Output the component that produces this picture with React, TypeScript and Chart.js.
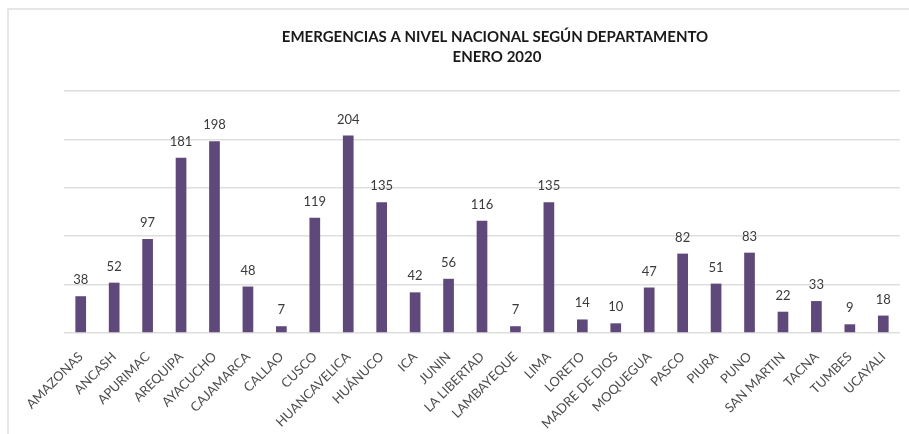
import React, { useEffect, useRef } from "react";
import { Chart, registerables } from "chart.js";

Chart.register(...registerables);

const titleLines = ["EMERGENCIAS A NIVEL NACIONAL SEGÚN DEPARTAMENTO", "ENERO 2020"];

const departamentos = [
  "AMAZONAS", "ANCASH", "APURIMAC", "AREQUIPA", "AYACUCHO", "CAJAMARCA", "CALLAO", "CUSCO",
  "HUANCAVELICA", "HUÁNUCO", "ICA", "JUNIN", "LA LIBERTAD", "LAMBAYEQUE", "LIMA", "LORETO",
  "MADRE DE DIOS", "MOQUEGUA", "PASCO", "PIURA", "PUNO", "SAN MARTIN", "TACNA", "TUMBES", "UCAYALI",
];

const emergencias = [
  38, 52, 97, 181, 198, 48, 7, 119, 204, 135, 42, 56, 116, 7, 135, 14, 10, 47, 82, 51, 83, 22, 33, 9, 18,
];

const yMax = 250;
const yStep = 50;

const FONT = "Lato, 'Open Sans', sans-serif";

const titlePlugin = {
  id: "customTitle",
  afterDraw(chart: any) {
    const { ctx } = chart;
    ctx.save();
    ctx.fillStyle = "#1a1a1a";
    ctx.font = `bold 15px ${FONT}`;
    ctx.textAlign = "center";
    ctx.textBaseline = "middle";
    ctx.fillText(titleLines[0], 495, 37);
    ctx.fillText(titleLines[1], 497, 57);
    ctx.restore();
  },
};

const valueLabels = {
  id: "valueLabels",
  afterDatasetsDraw(chart: any) {
    const { ctx } = chart;
    const meta = chart.getDatasetMeta(0);
    ctx.save();
    ctx.fillStyle = "#3a3a3a";
    ctx.font = `13px ${FONT}`;
    ctx.textAlign = "center";
    ctx.textBaseline = "alphabetic";
    meta.data.forEach((bar: any, i: number) => {
      ctx.fillText(String(emergencias[i]), bar.x, bar.y - 12);
    });
    ctx.restore();
  },
};

export default function App() {
  const ref = useRef<HTMLCanvasElement>(null);

  useEffect(() => {
    if (!ref.current) return;
    const chart = new Chart(ref.current, {
      type: "bar",
      data: {
        labels: departamentos,
        datasets: [
          {
            data: emergencias,
            backgroundColor: "#5F497A",
            barPercentage: 0.32,
            categoryPercentage: 1,
          },
        ],
      },
      options: {
        responsive: false,
        animation: false,
        layout: { padding: { left: 64, right: 9, top: 91, bottom: 0 } },
        plugins: {
          legend: { display: false },
          title: { display: false },
          tooltip: { enabled: false },
        },
        scales: {
          x: {
            grid: { display: false },
            border: { display: false },
            ticks: {
              autoSkip: false,
              maxRotation: 45,
              minRotation: 45,
              padding: 8,
              color: "#4d4d4d",
              font: { family: FONT, size: 13 },
            },
            afterFit(scale: any) {
              scale.height = 101;
              scale.paddingLeft = 0;
              scale.paddingRight = 0;
            },
          },
          y: {
            min: 0,
            max: yMax,
            ticks: { display: false, stepSize: yStep },
            border: { display: false },
            grid: { color: "#dedede", lineWidth: 1.5, drawTicks: false },
            afterFit(scale: any) {
              scale.width = 0;
            },
          },
        },
      },
      plugins: [titlePlugin, valueLabels],
    });
    return () => chart.destroy();
  }, []);

  return (
    <div style={{ position: "absolute", left: 0, top: 0, width: 909, height: 434, background: "#fff" }}>
      <div
        style={{
          position: "absolute",
          left: 7,
          top: 8,
          width: 902,
          height: 426,
          borderTop: "2px solid #e6e6e6",
          borderLeft: "2px solid #e6e6e6",
          boxSizing: "border-box",
        }}
      />
      <canvas ref={ref} width={909} height={434} style={{ position: "absolute", left: 0, top: 0 }} />
    </div>
  );
}
